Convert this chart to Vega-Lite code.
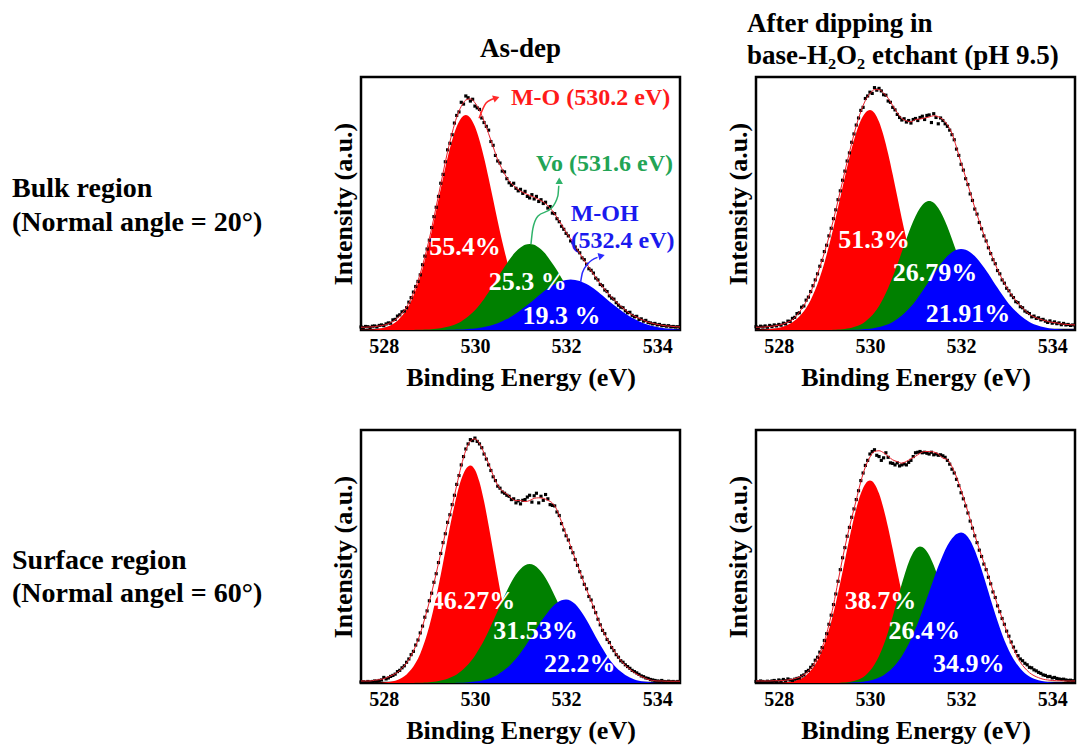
{
"$schema":"https://vega.github.io/schema/vega-lite/v6.json",
"background":"white",
"padding":{"left":12,"top":8,"right":4,"bottom":4},
"config":{"font":"Liberation Serif","view":{"stroke":"black","strokeWidth":2.5},
"axis":{"labelFont":"Liberation Serif","labelFontWeight":"bold","labelFontSize":20,"labelColor":"black","titleFont":"Liberation Serif","titleFontWeight":"bold","titleFontSize":26,"titleColor":"black","grid":false,"ticks":false,"domain":false},
"axisY":{"labels":false,"titlePadding":5},"axisX":{"labelPadding":6,"titlePadding":8},
"title":{"font":"Liberation Serif","fontWeight":"bold","fontSize":27,"color":"black"}},
"datasets":{
"lab":[{"row":"B","t":"Bulk region","lx":0,"ly":0.557},{"row":"B","t":"(Normal angle = 20°)","lx":0,"ly":0.423},{"row":"S","t":"Surface region","lx":0,"ly":0.482},{"row":"S","t":"(Normal angel = 60°)","lx":0,"ly":0.352}],
"pct":[{"p":"TL","x":529.78,"y":0.33,"t":"55.4%"},{"p":"TL","x":531.16,"y":0.19,"t":"25.3 %"},{"p":"TL","x":531.9,"y":0.057,"t":"19.3 %"},
{"p":"TR","x":530.09,"y":0.354,"t":"51.3%"},{"p":"TR","x":531.43,"y":0.224,"t":"26.79%"},{"p":"TR","x":532.15,"y":0.063,"t":"21.91%"},
{"p":"BL","x":529.96,"y":0.325,"t":"46.27%"},{"p":"BL","x":531.33,"y":0.207,"t":"31.53%"},{"p":"BL","x":532.3,"y":0.076,"t":"22.2%"},
{"p":"BR","x":530.23,"y":0.325,"t":"38.7%"},{"p":"BR","x":531.19,"y":0.207,"t":"26.4%"},{"p":"BR","x":532.17,"y":0.076,"t":"34.9%"}],
"antx":[{"x":530.79,"y":0.916,"t":"M-O (530.2 eV)","c":"#ff1a1a"},{"x":531.34,"y":0.657,"t":"Vo (531.6 eV)","c":"#22a455"},{"x":532.1,"y":0.458,"t":"M-OH","c":"#1a1aee"},{"x":532.1,"y":0.35,"t":"(532.4 eV)","c":"#1a1aee"}],
"arr":[{"id":"r","k":1,"x":530.09,"y":0.837,"c":"#ff2a2a"},{"id":"r","k":2,"x":530.24,"y":0.896,"c":"#ff2a2a"},{"id":"r","k":3,"x":530.35,"y":0.91,"c":"#ff2a2a"},{"id":"r","k":4,"x":530.45,"y":0.916,"c":"#ff2a2a"},
{"id":"g","k":1,"x":531.23,"y":0.34,"c":"#2fb36a"},{"id":"g","k":2,"x":531.27,"y":0.4,"c":"#2fb36a"},{"id":"g","k":3,"x":531.38,"y":0.45,"c":"#2fb36a"},{"id":"g","k":4,"x":531.67,"y":0.48,"c":"#2fb36a"},{"id":"g","k":5,"x":531.82,"y":0.53,"c":"#2fb36a"},{"id":"g","k":6,"x":531.84,"y":0.57,"c":"#2fb36a"},
{"id":"b","k":1,"x":532.32,"y":0.19,"c":"#2a2aff"},{"id":"b","k":2,"x":532.36,"y":0.227,"c":"#2a2aff"},{"id":"b","k":3,"x":532.47,"y":0.26,"c":"#2a2aff"},{"id":"b","k":4,"x":532.69,"y":0.287,"c":"#2a2aff"}],
"head":[{"x":530.47,"y":0.917,"s":"triangle-right","a":340,"c":"#ff2a2a"},{"x":531.85,"y":0.59,"s":"triangle-up","a":0,"c":"#2fb36a"},{"x":532.78,"y":0.293,"s":"triangle-right","a":345,"c":"#2a2aff"}],
"comp":[
{"p":"TL","x":527.5,"r":0.001,"g":0,"b":0,"f":0.011},{"p":"TL","x":527.6,"r":0.001,"g":0,"b":0,"f":0.011},{"p":"TL","x":527.7,"r":0.002,"g":0,"b":0,"f":0.012},{"p":"TL","x":527.8,"r":0.003,"g":0,"b":0,"f":0.013},{"p":"TL","x":527.9,"r":0.006,"g":0,"b":0,"f":0.016},
{"p":"TL","x":528.0,"r":0.009,"g":0,"b":0,"f":0.019},{"p":"TL","x":528.1,"r":0.015,"g":0,"b":0,"f":0.025},{"p":"TL","x":528.2,"r":0.024,"g":0,"b":0,"f":0.034},{"p":"TL","x":528.3,"r":0.037,"g":0,"b":0,"f":0.047},{"p":"TL","x":528.4,"r":0.056,"g":0,"b":0,"f":0.066},
{"p":"TL","x":528.5,"r":0.081,"g":0,"b":0,"f":0.091},{"p":"TL","x":528.6,"r":0.115,"g":0,"b":0,"f":0.125},{"p":"TL","x":528.7,"r":0.158,"g":0.001,"b":0,"f":0.169},{"p":"TL","x":528.8,"r":0.212,"g":0.001,"b":0,"f":0.223},{"p":"TL","x":528.9,"r":0.276,"g":0.002,"b":0,"f":0.288},
{"p":"TL","x":529.0,"r":0.349,"g":0.002,"b":0,"f":0.361},{"p":"TL","x":529.1,"r":0.43,"g":0.004,"b":0,"f":0.444},{"p":"TL","x":529.2,"r":0.516,"g":0.006,"b":0,"f":0.532},{"p":"TL","x":529.3,"r":0.601,"g":0.009,"b":0,"f":0.62},{"p":"TL","x":529.4,"r":0.681,"g":0.013,"b":0.001,"f":0.705},
{"p":"TL","x":529.5,"r":0.75,"g":0.018,"b":0.001,"f":0.779},{"p":"TL","x":529.6,"r":0.804,"g":0.025,"b":0.002,"f":0.841},{"p":"TL","x":529.7,"r":0.838,"g":0.034,"b":0.002,"f":0.884},{"p":"TL","x":529.8,"r":0.85,"g":0.046,"b":0.003,"f":0.909},{"p":"TL","x":529.9,"r":0.838,"g":0.061,"b":0.005,"f":0.914},
{"p":"TL","x":530.0,"r":0.804,"g":0.078,"b":0.006,"f":0.898},{"p":"TL","x":530.1,"r":0.75,"g":0.099,"b":0.009,"f":0.868},{"p":"TL","x":530.2,"r":0.681,"g":0.123,"b":0.012,"f":0.826},{"p":"TL","x":530.3,"r":0.601,"g":0.149,"b":0.016,"f":0.776},{"p":"TL","x":530.4,"r":0.516,"g":0.177,"b":0.021,"f":0.724},
{"p":"TL","x":530.5,"r":0.43,"g":0.206,"b":0.027,"f":0.673},{"p":"TL","x":530.6,"r":0.349,"g":0.236,"b":0.035,"f":0.635},{"p":"TL","x":530.7,"r":0.276,"g":0.263,"b":0.043,"f":0.602},{"p":"TL","x":530.8,"r":0.212,"g":0.289,"b":0.053,"f":0.579},{"p":"TL","x":530.9,"r":0.158,"g":0.31,"b":0.065,"f":0.563},
{"p":"TL","x":531.0,"r":0.115,"g":0.326,"b":0.078,"f":0.549},{"p":"TL","x":531.1,"r":0.081,"g":0.337,"b":0.092,"f":0.54},{"p":"TL","x":531.2,"r":0.056,"g":0.34,"b":0.106,"f":0.532},{"p":"TL","x":531.3,"r":0.037,"g":0.337,"b":0.121,"f":0.525},{"p":"TL","x":531.4,"r":0.024,"g":0.326,"b":0.136,"f":0.516},
{"p":"TL","x":531.5,"r":0.015,"g":0.31,"b":0.151,"f":0.506},{"p":"TL","x":531.6,"r":0.009,"g":0.289,"b":0.165,"f":0.491},{"p":"TL","x":531.7,"r":0.006,"g":0.263,"b":0.177,"f":0.471},{"p":"TL","x":531.8,"r":0.003,"g":0.236,"b":0.186,"f":0.445},{"p":"TL","x":531.9,"r":0.002,"g":0.206,"b":0.194,"f":0.417},
{"p":"TL","x":532.0,"r":0.001,"g":0.177,"b":0.198,"f":0.386},{"p":"TL","x":532.1,"r":0.001,"g":0.149,"b":0.2,"f":0.36},{"p":"TL","x":532.2,"r":0,"g":0.123,"b":0.198,"f":0.331},{"p":"TL","x":532.3,"r":0,"g":0.099,"b":0.194,"f":0.303},{"p":"TL","x":532.4,"r":0,"g":0.078,"b":0.186,"f":0.274},
{"p":"TL","x":532.5,"r":0,"g":0.061,"b":0.177,"f":0.248},{"p":"TL","x":532.6,"r":0,"g":0.046,"b":0.165,"f":0.221},{"p":"TL","x":532.7,"r":0,"g":0.034,"b":0.151,"f":0.195},{"p":"TL","x":532.8,"r":0,"g":0.025,"b":0.136,"f":0.171},{"p":"TL","x":532.9,"r":0,"g":0.018,"b":0.121,"f":0.149},
{"p":"TL","x":533.0,"r":0,"g":0.013,"b":0.106,"f":0.129},{"p":"TL","x":533.1,"r":0,"g":0.009,"b":0.092,"f":0.111},{"p":"TL","x":533.2,"r":0,"g":0.006,"b":0.078,"f":0.094},{"p":"TL","x":533.3,"r":0,"g":0.004,"b":0.065,"f":0.079},{"p":"TL","x":533.4,"r":0,"g":0.002,"b":0.053,"f":0.065},
{"p":"TL","x":533.5,"r":0,"g":0.002,"b":0.043,"f":0.055},{"p":"TL","x":533.6,"r":0,"g":0.001,"b":0.035,"f":0.046},{"p":"TL","x":533.7,"r":0,"g":0.001,"b":0.027,"f":0.038},{"p":"TL","x":533.8,"r":0,"g":0,"b":0.021,"f":0.031},{"p":"TL","x":533.9,"r":0,"g":0,"b":0.016,"f":0.026},
{"p":"TL","x":534.0,"r":0,"g":0,"b":0.012,"f":0.022},{"p":"TL","x":534.1,"r":0,"g":0,"b":0.009,"f":0.019},{"p":"TL","x":534.2,"r":0,"g":0,"b":0.006,"f":0.016},{"p":"TL","x":534.3,"r":0,"g":0,"b":0.005,"f":0.015},{"p":"TL","x":534.4,"r":0,"g":0,"b":0.003,"f":0.013},{"p":"TL","x":534.5,"r":0,"g":0,"b":0.002,"f":0.012},
{"p":"TR","x":527.5,"r":0.001,"g":0,"b":0,"f":0.011},{"p":"TR","x":527.6,"r":0.001,"g":0,"b":0,"f":0.011},{"p":"TR","x":527.7,"r":0.002,"g":0,"b":0,"f":0.012},{"p":"TR","x":527.8,"r":0.004,"g":0,"b":0,"f":0.014},{"p":"TR","x":527.9,"r":0.006,"g":0,"b":0,"f":0.016},
{"p":"TR","x":528.0,"r":0.009,"g":0,"b":0,"f":0.019},{"p":"TR","x":528.1,"r":0.014,"g":0,"b":0,"f":0.024},{"p":"TR","x":528.2,"r":0.021,"g":0,"b":0,"f":0.031},{"p":"TR","x":528.3,"r":0.031,"g":0,"b":0,"f":0.041},{"p":"TR","x":528.4,"r":0.044,"g":0,"b":0,"f":0.059},
{"p":"TR","x":528.5,"r":0.063,"g":0,"b":0,"f":0.083},{"p":"TR","x":528.6,"r":0.087,"g":0,"b":0,"f":0.112},{"p":"TR","x":528.7,"r":0.119,"g":0,"b":0,"f":0.149},{"p":"TR","x":528.8,"r":0.159,"g":0,"b":0,"f":0.194},{"p":"TR","x":528.9,"r":0.208,"g":0,"b":0,"f":0.248},
{"p":"TR","x":529.0,"r":0.265,"g":0,"b":0,"f":0.305},{"p":"TR","x":529.1,"r":0.332,"g":0,"b":0,"f":0.367},{"p":"TR","x":529.2,"r":0.405,"g":0.001,"b":0,"f":0.436},{"p":"TR","x":529.3,"r":0.484,"g":0.002,"b":0,"f":0.511},{"p":"TR","x":529.4,"r":0.565,"g":0.003,"b":0,"f":0.588},
{"p":"TR","x":529.5,"r":0.644,"g":0.006,"b":0,"f":0.665},{"p":"TR","x":529.6,"r":0.718,"g":0.009,"b":0.001,"f":0.738},{"p":"TR","x":529.7,"r":0.781,"g":0.015,"b":0.001,"f":0.807},{"p":"TR","x":529.8,"r":0.829,"g":0.022,"b":0.002,"f":0.863},{"p":"TR","x":529.9,"r":0.859,"g":0.034,"b":0.004,"f":0.907},
{"p":"TR","x":530.0,"r":0.87,"g":0.049,"b":0.005,"f":0.934},{"p":"TR","x":530.1,"r":0.858,"g":0.069,"b":0.008,"f":0.95},{"p":"TR","x":530.2,"r":0.823,"g":0.095,"b":0.012,"f":0.95},{"p":"TR","x":530.3,"r":0.768,"g":0.127,"b":0.017,"f":0.937},{"p":"TR","x":530.4,"r":0.697,"g":0.166,"b":0.023,"f":0.916},
{"p":"TR","x":530.5,"r":0.615,"g":0.21,"b":0.032,"f":0.887},{"p":"TR","x":530.6,"r":0.528,"g":0.258,"b":0.043,"f":0.859},{"p":"TR","x":530.7,"r":0.44,"g":0.309,"b":0.057,"f":0.836},{"p":"TR","x":530.8,"r":0.358,"g":0.36,"b":0.074,"f":0.827},{"p":"TR","x":530.9,"r":0.282,"g":0.408,"b":0.093,"f":0.823},
{"p":"TR","x":531.0,"r":0.217,"g":0.45,"b":0.115,"f":0.832},{"p":"TR","x":531.1,"r":0.162,"g":0.482,"b":0.14,"f":0.834},{"p":"TR","x":531.2,"r":0.118,"g":0.503,"b":0.167,"f":0.838},{"p":"TR","x":531.3,"r":0.083,"g":0.51,"b":0.194,"f":0.842},{"p":"TR","x":531.4,"r":0.057,"g":0.503,"b":0.222,"f":0.847},
{"p":"TR","x":531.5,"r":0.038,"g":0.482,"b":0.248,"f":0.843},{"p":"TR","x":531.6,"r":0.025,"g":0.45,"b":0.272,"f":0.832},{"p":"TR","x":531.7,"r":0.016,"g":0.408,"b":0.292,"f":0.811},{"p":"TR","x":531.8,"r":0.01,"g":0.36,"b":0.307,"f":0.777},{"p":"TR","x":531.9,"r":0.006,"g":0.309,"b":0.317,"f":0.722},
{"p":"TR","x":532.0,"r":0.003,"g":0.258,"b":0.32,"f":0.661},{"p":"TR","x":532.1,"r":0.002,"g":0.21,"b":0.317,"f":0.604},{"p":"TR","x":532.2,"r":0.001,"g":0.166,"b":0.307,"f":0.544},{"p":"TR","x":532.3,"r":0,"g":0.127,"b":0.292,"f":0.484},{"p":"TR","x":532.4,"r":0,"g":0.095,"b":0.272,"f":0.429},
{"p":"TR","x":532.5,"r":0,"g":0.069,"b":0.248,"f":0.377},{"p":"TR","x":532.6,"r":0,"g":0.049,"b":0.222,"f":0.328},{"p":"TR","x":532.7,"r":0,"g":0.034,"b":0.194,"f":0.282},{"p":"TR","x":532.8,"r":0,"g":0.022,"b":0.167,"f":0.239},{"p":"TR","x":532.9,"r":0,"g":0.015,"b":0.14,"f":0.202},
{"p":"TR","x":533.0,"r":0,"g":0.009,"b":0.115,"f":0.169},{"p":"TR","x":533.1,"r":0,"g":0.006,"b":0.093,"f":0.141},{"p":"TR","x":533.2,"r":0,"g":0.003,"b":0.074,"f":0.117},{"p":"TR","x":533.3,"r":0,"g":0.002,"b":0.057,"f":0.096},{"p":"TR","x":533.4,"r":0,"g":0.001,"b":0.043,"f":0.078},
{"p":"TR","x":533.5,"r":0,"g":0,"b":0.032,"f":0.062},{"p":"TR","x":533.6,"r":0,"g":0,"b":0.023,"f":0.052},{"p":"TR","x":533.7,"r":0,"g":0,"b":0.017,"f":0.045},{"p":"TR","x":533.8,"r":0,"g":0,"b":0.012,"f":0.039},{"p":"TR","x":533.9,"r":0,"g":0,"b":0.008,"f":0.034},
{"p":"TR","x":534.0,"r":0,"g":0,"b":0.005,"f":0.03},{"p":"TR","x":534.1,"r":0,"g":0,"b":0.004,"f":0.028},{"p":"TR","x":534.2,"r":0,"g":0,"b":0.002,"f":0.024},{"p":"TR","x":534.3,"r":0,"g":0,"b":0.001,"f":0.022},{"p":"TR","x":534.4,"r":0,"g":0,"b":0.001,"f":0.021},{"p":"TR","x":534.5,"r":0,"g":0,"b":0,"f":0.02},
{"p":"BL","x":527.5,"r":0,"g":0,"b":0,"f":0.008},{"p":"BL","x":527.6,"r":0,"g":0,"b":0,"f":0.008},{"p":"BL","x":527.7,"r":0,"g":0,"b":0,"f":0.008},{"p":"BL","x":527.8,"r":0.001,"g":0,"b":0,"f":0.011},{"p":"BL","x":527.9,"r":0.001,"g":0,"b":0,"f":0.013},
{"p":"BL","x":528.0,"r":0.002,"g":0,"b":0,"f":0.017},{"p":"BL","x":528.1,"r":0.004,"g":0,"b":0,"f":0.024},{"p":"BL","x":528.2,"r":0.007,"g":0,"b":0,"f":0.032},{"p":"BL","x":528.3,"r":0.012,"g":0,"b":0,"f":0.042},{"p":"BL","x":528.4,"r":0.021,"g":0,"b":0,"f":0.058},
{"p":"BL","x":528.5,"r":0.034,"g":0,"b":0,"f":0.079},{"p":"BL","x":528.6,"r":0.053,"g":0,"b":0,"f":0.108},{"p":"BL","x":528.7,"r":0.08,"g":0.001,"b":0,"f":0.146},{"p":"BL","x":528.8,"r":0.116,"g":0.001,"b":0,"f":0.195},{"p":"BL","x":528.9,"r":0.165,"g":0.002,"b":0,"f":0.255},
{"p":"BL","x":529.0,"r":0.225,"g":0.003,"b":0,"f":0.321},{"p":"BL","x":529.1,"r":0.299,"g":0.005,"b":0,"f":0.394},{"p":"BL","x":529.2,"r":0.383,"g":0.008,"b":0,"f":0.473},{"p":"BL","x":529.3,"r":0.474,"g":0.012,"b":0,"f":0.55},{"p":"BL","x":529.4,"r":0.569,"g":0.017,"b":0,"f":0.63},
{"p":"BL","x":529.5,"r":0.66,"g":0.025,"b":0,"f":0.7},{"p":"BL","x":529.6,"r":0.741,"g":0.034,"b":0.001,"f":0.781},{"p":"BL","x":529.7,"r":0.805,"g":0.047,"b":0.001,"f":0.858},{"p":"BL","x":529.8,"r":0.846,"g":0.064,"b":0.002,"f":0.92},{"p":"BL","x":529.9,"r":0.86,"g":0.084,"b":0.004,"f":0.956},
{"p":"BL","x":530.0,"r":0.843,"g":0.108,"b":0.006,"f":0.965},{"p":"BL","x":530.1,"r":0.794,"g":0.137,"b":0.008,"f":0.947},{"p":"BL","x":530.2,"r":0.718,"g":0.169,"b":0.012,"f":0.909},{"p":"BL","x":530.3,"r":0.624,"g":0.206,"b":0.017,"f":0.867},{"p":"BL","x":530.4,"r":0.522,"g":0.245,"b":0.024,"f":0.821},
{"p":"BL","x":530.5,"r":0.419,"g":0.285,"b":0.033,"f":0.782},{"p":"BL","x":530.6,"r":0.323,"g":0.326,"b":0.045,"f":0.759},{"p":"BL","x":530.7,"r":0.239,"g":0.364,"b":0.059,"f":0.747},{"p":"BL","x":530.8,"r":0.17,"g":0.399,"b":0.076,"f":0.73},{"p":"BL","x":530.9,"r":0.116,"g":0.429,"b":0.096,"f":0.721},
{"p":"BL","x":531.0,"r":0.076,"g":0.451,"b":0.119,"f":0.721},{"p":"BL","x":531.1,"r":0.048,"g":0.465,"b":0.144,"f":0.717},{"p":"BL","x":531.2,"r":0.029,"g":0.47,"b":0.172,"f":0.721},{"p":"BL","x":531.3,"r":0.017,"g":0.465,"b":0.2,"f":0.73},{"p":"BL","x":531.4,"r":0.01,"g":0.451,"b":0.229,"f":0.732},
{"p":"BL","x":531.5,"r":0.005,"g":0.429,"b":0.256,"f":0.73},{"p":"BL","x":531.6,"r":0.003,"g":0.399,"b":0.28,"f":0.722},{"p":"BL","x":531.7,"r":0.001,"g":0.364,"b":0.301,"f":0.711},{"p":"BL","x":531.8,"r":0.001,"g":0.326,"b":0.317,"f":0.684},{"p":"BL","x":531.9,"r":0,"g":0.285,"b":0.327,"f":0.637},
{"p":"BL","x":532.0,"r":0,"g":0.245,"b":0.33,"f":0.587},{"p":"BL","x":532.1,"r":0,"g":0.206,"b":0.325,"f":0.541},{"p":"BL","x":532.2,"r":0,"g":0.169,"b":0.312,"f":0.491},{"p":"BL","x":532.3,"r":0,"g":0.137,"b":0.291,"f":0.443},{"p":"BL","x":532.4,"r":0,"g":0.108,"b":0.264,"f":0.392},
{"p":"BL","x":532.5,"r":0,"g":0.084,"b":0.233,"f":0.347},{"p":"BL","x":532.6,"r":0,"g":0.064,"b":0.2,"f":0.302},{"p":"BL","x":532.7,"r":0,"g":0.047,"b":0.167,"f":0.254},{"p":"BL","x":532.8,"r":0,"g":0.034,"b":0.136,"f":0.21},{"p":"BL","x":532.9,"r":0,"g":0.025,"b":0.107,"f":0.175},
{"p":"BL","x":533.0,"r":0,"g":0.017,"b":0.082,"f":0.144},{"p":"BL","x":533.1,"r":0,"g":0.012,"b":0.061,"f":0.115},{"p":"BL","x":533.2,"r":0,"g":0.008,"b":0.045,"f":0.09},{"p":"BL","x":533.3,"r":0,"g":0.005,"b":0.032,"f":0.07},{"p":"BL","x":533.4,"r":0,"g":0.003,"b":0.022,"f":0.055},
{"p":"BL","x":533.5,"r":0,"g":0.002,"b":0.014,"f":0.041},{"p":"BL","x":533.6,"r":0,"g":0.001,"b":0.009,"f":0.03},{"p":"BL","x":533.7,"r":0,"g":0.001,"b":0.006,"f":0.022},{"p":"BL","x":533.8,"r":0,"g":0,"b":0.004,"f":0.014},{"p":"BL","x":533.9,"r":0,"g":0,"b":0.002,"f":0.01},
{"p":"BL","x":534.0,"r":0,"g":0,"b":0.001,"f":0.008},{"p":"BL","x":534.1,"r":0,"g":0,"b":0.001,"f":0.008},{"p":"BL","x":534.2,"r":0,"g":0,"b":0,"f":0.007},{"p":"BL","x":534.3,"r":0,"g":0,"b":0,"f":0.007},{"p":"BL","x":534.4,"r":0,"g":0,"b":0,"f":0.007},{"p":"BL","x":534.5,"r":0,"g":0,"b":0,"f":0.007},
{"p":"BR","x":527.5,"r":0,"g":0,"b":0,"f":0.008},{"p":"BR","x":527.6,"r":0,"g":0,"b":0,"f":0.008},{"p":"BR","x":527.7,"r":0,"g":0,"b":0,"f":0.008},{"p":"BR","x":527.8,"r":0,"g":0,"b":0,"f":0.008},{"p":"BR","x":527.9,"r":0.001,"g":0,"b":0,"f":0.009},
{"p":"BR","x":528.0,"r":0.001,"g":0,"b":0,"f":0.009},{"p":"BR","x":528.1,"r":0.002,"g":0,"b":0,"f":0.01},{"p":"BR","x":528.2,"r":0.004,"g":0,"b":0,"f":0.012},{"p":"BR","x":528.3,"r":0.007,"g":0,"b":0,"f":0.015},{"p":"BR","x":528.4,"r":0.012,"g":0,"b":0,"f":0.02},
{"p":"BR","x":528.5,"r":0.019,"g":0,"b":0,"f":0.027},{"p":"BR","x":528.6,"r":0.031,"g":0,"b":0,"f":0.039},{"p":"BR","x":528.7,"r":0.049,"g":0,"b":0,"f":0.057},{"p":"BR","x":528.8,"r":0.074,"g":0,"b":0,"f":0.084},{"p":"BR","x":528.9,"r":0.108,"g":0,"b":0,"f":0.118},
{"p":"BR","x":529.0,"r":0.153,"g":0,"b":0,"f":0.165},{"p":"BR","x":529.1,"r":0.21,"g":0,"b":0,"f":0.23},{"p":"BR","x":529.2,"r":0.278,"g":0,"b":0,"f":0.308},{"p":"BR","x":529.3,"r":0.356,"g":0,"b":0,"f":0.401},{"p":"BR","x":529.4,"r":0.441,"g":0.002,"b":0,"f":0.493},
{"p":"BR","x":529.5,"r":0.529,"g":0.003,"b":0,"f":0.577},{"p":"BR","x":529.6,"r":0.614,"g":0.006,"b":0.002,"f":0.652},{"p":"BR","x":529.7,"r":0.689,"g":0.011,"b":0.003,"f":0.723},{"p":"BR","x":529.8,"r":0.749,"g":0.018,"b":0.004,"f":0.796},{"p":"BR","x":529.9,"r":0.787,"g":0.03,"b":0.007,"f":0.854},
{"p":"BR","x":530.0,"r":0.8,"g":0.048,"b":0.01,"f":0.893},{"p":"BR","x":530.1,"r":0.787,"g":0.073,"b":0.015,"f":0.915},{"p":"BR","x":530.2,"r":0.749,"g":0.107,"b":0.022,"f":0.918},{"p":"BR","x":530.3,"r":0.689,"g":0.15,"b":0.031,"f":0.91},{"p":"BR","x":530.4,"r":0.614,"g":0.203,"b":0.044,"f":0.896},
{"p":"BR","x":530.5,"r":0.529,"g":0.263,"b":0.06,"f":0.882},{"p":"BR","x":530.6,"r":0.441,"g":0.328,"b":0.081,"f":0.875},{"p":"BR","x":530.7,"r":0.356,"g":0.392,"b":0.106,"f":0.869},{"p":"BR","x":530.8,"r":0.278,"g":0.451,"b":0.137,"f":0.876},{"p":"BR","x":530.9,"r":0.21,"g":0.498,"b":0.173,"f":0.886},
{"p":"BR","x":531.0,"r":0.153,"g":0.529,"b":0.214,"f":0.896},{"p":"BR","x":531.1,"r":0.108,"g":0.54,"b":0.26,"f":0.908},{"p":"BR","x":531.2,"r":0.074,"g":0.531,"b":0.31,"f":0.915},{"p":"BR","x":531.3,"r":0.049,"g":0.505,"b":0.361,"f":0.915},{"p":"BR","x":531.4,"r":0.031,"g":0.465,"b":0.412,"f":0.913},
{"p":"BR","x":531.5,"r":0.019,"g":0.415,"b":0.461,"f":0.905},{"p":"BR","x":531.6,"r":0.012,"g":0.357,"b":0.505,"f":0.889},{"p":"BR","x":531.7,"r":0.007,"g":0.298,"b":0.543,"f":0.883},{"p":"BR","x":531.8,"r":0.004,"g":0.24,"b":0.571,"f":0.855},{"p":"BR","x":531.9,"r":0.002,"g":0.187,"b":0.589,"f":0.814},
{"p":"BR","x":532.0,"r":0.001,"g":0.142,"b":0.595,"f":0.762},{"p":"BR","x":532.1,"r":0.001,"g":0.103,"b":0.587,"f":0.706},{"p":"BR","x":532.2,"r":0,"g":0.073,"b":0.563,"f":0.646},{"p":"BR","x":532.3,"r":0,"g":0.05,"b":0.525,"f":0.585},{"p":"BR","x":532.4,"r":0,"g":0.033,"b":0.476,"f":0.529},
{"p":"BR","x":532.5,"r":0,"g":0.021,"b":0.42,"f":0.476},{"p":"BR","x":532.6,"r":0,"g":0.013,"b":0.361,"f":0.424},{"p":"BR","x":532.7,"r":0,"g":0.008,"b":0.301,"f":0.364},{"p":"BR","x":532.8,"r":0,"g":0.005,"b":0.245,"f":0.308},{"p":"BR","x":532.9,"r":0,"g":0.003,"b":0.193,"f":0.256},
{"p":"BR","x":533.0,"r":0,"g":0.001,"b":0.148,"f":0.204},{"p":"BR","x":533.1,"r":0,"g":0.001,"b":0.111,"f":0.158},{"p":"BR","x":533.2,"r":0,"g":0,"b":0.081,"f":0.116},{"p":"BR","x":533.3,"r":0,"g":0,"b":0.057,"f":0.082},{"p":"BR","x":533.4,"r":0,"g":0,"b":0.039,"f":0.059},
{"p":"BR","x":533.5,"r":0,"g":0,"b":0.026,"f":0.041},{"p":"BR","x":533.6,"r":0,"g":0,"b":0.017,"f":0.029},{"p":"BR","x":533.7,"r":0,"g":0,"b":0.011,"f":0.021},{"p":"BR","x":533.8,"r":0,"g":0,"b":0.007,"f":0.015},{"p":"BR","x":533.9,"r":0,"g":0,"b":0.004,"f":0.012},
{"p":"BR","x":534.0,"r":0,"g":0,"b":0.002,"f":0.01},{"p":"BR","x":534.1,"r":0,"g":0,"b":0.001,"f":0.009},{"p":"BR","x":534.2,"r":0,"g":0,"b":0.001,"f":0.009},{"p":"BR","x":534.3,"r":0,"g":0,"b":0,"f":0.008},{"p":"BR","x":534.4,"r":0,"g":0,"b":0,"f":0.008},{"p":"BR","x":534.5,"r":0,"g":0,"b":0,"f":0.008}
],
"obs":[
{"p":"TL","x":527.5,"o":0.012},{"p":"TL","x":527.55,"o":0.01},{"p":"TL","x":527.6,"o":0.014},{"p":"TL","x":527.65,"o":0.013},{"p":"TL","x":527.7,"o":0.01},{"p":"TL","x":527.75,"o":0.015},{"p":"TL","x":527.8,"o":0.016},{"p":"TL","x":527.85,"o":0.012},{"p":"TL","x":527.9,"o":0.018},{"p":"TL","x":527.95,"o":0.02},
{"p":"TL","x":528.0,"o":0.017},{"p":"TL","x":528.05,"o":0.024},{"p":"TL","x":528.1,"o":0.028},{"p":"TL","x":528.15,"o":0.027},{"p":"TL","x":528.2,"o":0.04},{"p":"TL","x":528.25,"o":0.042},{"p":"TL","x":528.3,"o":0.055},{"p":"TL","x":528.35,"o":0.06},{"p":"TL","x":528.4,"o":0.072},{"p":"TL","x":528.45,"o":0.075},
{"p":"TL","x":528.5,"o":0.088},{"p":"TL","x":528.55,"o":0.11},{"p":"TL","x":528.6,"o":0.128},{"p":"TL","x":528.65,"o":0.15},{"p":"TL","x":528.7,"o":0.172},{"p":"TL","x":528.75,"o":0.192},{"p":"TL","x":528.8,"o":0.218},{"p":"TL","x":528.85,"o":0.258},{"p":"TL","x":528.9,"o":0.292},{"p":"TL","x":528.95,"o":0.32},
{"p":"TL","x":529.0,"o":0.355},{"p":"TL","x":529.05,"o":0.405},{"p":"TL","x":529.1,"o":0.448},{"p":"TL","x":529.15,"o":0.485},{"p":"TL","x":529.2,"o":0.528},{"p":"TL","x":529.25,"o":0.58},{"p":"TL","x":529.3,"o":0.615},{"p":"TL","x":529.35,"o":0.665},{"p":"TL","x":529.4,"o":0.712},{"p":"TL","x":529.45,"o":0.738},
{"p":"TL","x":529.5,"o":0.772},{"p":"TL","x":529.55,"o":0.818},{"p":"TL","x":529.6,"o":0.848},{"p":"TL","x":529.65,"o":0.862},{"p":"TL","x":529.7,"o":0.9},{"p":"TL","x":529.75,"o":0.893},{"p":"TL","x":529.8,"o":0.925},{"p":"TL","x":529.85,"o":0.918},{"p":"TL","x":529.9,"o":0.905},{"p":"TL","x":529.95,"o":0.912},
{"p":"TL","x":530.0,"o":0.885},{"p":"TL","x":530.05,"o":0.878},{"p":"TL","x":530.1,"o":0.872},{"p":"TL","x":530.15,"o":0.838},{"p":"TL","x":530.2,"o":0.82},{"p":"TL","x":530.25,"o":0.805},{"p":"TL","x":530.3,"o":0.79},{"p":"TL","x":530.35,"o":0.745},{"p":"TL","x":530.4,"o":0.73},{"p":"TL","x":530.45,"o":0.69},
{"p":"TL","x":530.5,"o":0.668},{"p":"TL","x":530.55,"o":0.66},{"p":"TL","x":530.6,"o":0.628},{"p":"TL","x":530.65,"o":0.625},{"p":"TL","x":530.7,"o":0.598},{"p":"TL","x":530.75,"o":0.582},{"p":"TL","x":530.8,"o":0.572},{"p":"TL","x":530.85,"o":0.58},{"p":"TL","x":530.9,"o":0.56},{"p":"TL","x":530.95,"o":0.55},
{"p":"TL","x":531.0,"o":0.556},{"p":"TL","x":531.05,"o":0.54},{"p":"TL","x":531.1,"o":0.548},{"p":"TL","x":531.15,"o":0.528},{"p":"TL","x":531.2,"o":0.522},{"p":"TL","x":531.25,"o":0.535},{"p":"TL","x":531.3,"o":0.518},{"p":"TL","x":531.35,"o":0.528},{"p":"TL","x":531.4,"o":0.508},{"p":"TL","x":531.45,"o":0.515},
{"p":"TL","x":531.5,"o":0.5},{"p":"TL","x":531.55,"o":0.505},{"p":"TL","x":531.6,"o":0.482},{"p":"TL","x":531.65,"o":0.488},{"p":"TL","x":531.7,"o":0.462},{"p":"TL","x":531.75,"o":0.46},{"p":"TL","x":531.8,"o":0.44},{"p":"TL","x":531.85,"o":0.428},{"p":"TL","x":531.9,"o":0.41},{"p":"TL","x":531.95,"o":0.398},
{"p":"TL","x":532.0,"o":0.382},{"p":"TL","x":532.05,"o":0.372},{"p":"TL","x":532.1,"o":0.352},{"p":"TL","x":532.15,"o":0.345},{"p":"TL","x":532.2,"o":0.328},{"p":"TL","x":532.25,"o":0.315},{"p":"TL","x":532.3,"o":0.305},{"p":"TL","x":532.35,"o":0.285},{"p":"TL","x":532.4,"o":0.278},{"p":"TL","x":532.45,"o":0.26},
{"p":"TL","x":532.5,"o":0.242},{"p":"TL","x":532.55,"o":0.236},{"p":"TL","x":532.6,"o":0.225},{"p":"TL","x":532.65,"o":0.205},{"p":"TL","x":532.7,"o":0.198},{"p":"TL","x":532.75,"o":0.18},{"p":"TL","x":532.8,"o":0.175},{"p":"TL","x":532.85,"o":0.158},{"p":"TL","x":532.9,"o":0.152},{"p":"TL","x":532.95,"o":0.135},
{"p":"TL","x":533.0,"o":0.126},{"p":"TL","x":533.05,"o":0.122},{"p":"TL","x":533.1,"o":0.108},{"p":"TL","x":533.15,"o":0.098},{"p":"TL","x":533.2,"o":0.09},{"p":"TL","x":533.25,"o":0.088},{"p":"TL","x":533.3,"o":0.076},{"p":"TL","x":533.35,"o":0.068},{"p":"TL","x":533.4,"o":0.07},{"p":"TL","x":533.45,"o":0.058},
{"p":"TL","x":533.5,"o":0.052},{"p":"TL","x":533.55,"o":0.054},{"p":"TL","x":533.6,"o":0.042},{"p":"TL","x":533.65,"o":0.044},{"p":"TL","x":533.7,"o":0.035},{"p":"TL","x":533.75,"o":0.038},{"p":"TL","x":533.8,"o":0.03},{"p":"TL","x":533.85,"o":0.028},{"p":"TL","x":533.9,"o":0.024},{"p":"TL","x":533.95,"o":0.026},
{"p":"TL","x":534.0,"o":0.02},{"p":"TL","x":534.05,"o":0.022},{"p":"TL","x":534.1,"o":0.017},{"p":"TL","x":534.15,"o":0.018},{"p":"TL","x":534.2,"o":0.015},{"p":"TL","x":534.25,"o":0.017},{"p":"TL","x":534.3,"o":0.013},{"p":"TL","x":534.35,"o":0.014},{"p":"TL","x":534.4,"o":0.012},{"p":"TL","x":534.45,"o":0.013},
{"p":"TR","x":527.5,"o":0.013},{"p":"TR","x":527.55,"o":0.01},{"p":"TR","x":527.6,"o":0.015},{"p":"TR","x":527.65,"o":0.012},{"p":"TR","x":527.7,"o":0.016},{"p":"TR","x":527.75,"o":0.011},{"p":"TR","x":527.8,"o":0.018},{"p":"TR","x":527.85,"o":0.014},{"p":"TR","x":527.9,"o":0.02},{"p":"TR","x":527.95,"o":0.016},
{"p":"TR","x":528.0,"o":0.022},{"p":"TR","x":528.05,"o":0.019},{"p":"TR","x":528.1,"o":0.027},{"p":"TR","x":528.15,"o":0.024},{"p":"TR","x":528.2,"o":0.035},{"p":"TR","x":528.25,"o":0.034},{"p":"TR","x":528.3,"o":0.046},{"p":"TR","x":528.35,"o":0.05},{"p":"TR","x":528.4,"o":0.065},{"p":"TR","x":528.45,"o":0.068},
{"p":"TR","x":528.5,"o":0.09},{"p":"TR","x":528.55,"o":0.095},{"p":"TR","x":528.6,"o":0.118},{"p":"TR","x":528.65,"o":0.13},{"p":"TR","x":528.7,"o":0.152},{"p":"TR","x":528.75,"o":0.175},{"p":"TR","x":528.8,"o":0.198},{"p":"TR","x":528.85,"o":0.222},{"p":"TR","x":528.9,"o":0.252},{"p":"TR","x":528.95,"o":0.275},
{"p":"TR","x":529.0,"o":0.31},{"p":"TR","x":529.05,"o":0.335},{"p":"TR","x":529.1,"o":0.372},{"p":"TR","x":529.15,"o":0.402},{"p":"TR","x":529.2,"o":0.44},{"p":"TR","x":529.25,"o":0.475},{"p":"TR","x":529.3,"o":0.515},{"p":"TR","x":529.35,"o":0.55},{"p":"TR","x":529.4,"o":0.592},{"p":"TR","x":529.45,"o":0.628},
{"p":"TR","x":529.5,"o":0.668},{"p":"TR","x":529.55,"o":0.7},{"p":"TR","x":529.6,"o":0.742},{"p":"TR","x":529.65,"o":0.775},{"p":"TR","x":529.7,"o":0.81},{"p":"TR","x":529.75,"o":0.838},{"p":"TR","x":529.8,"o":0.868},{"p":"TR","x":529.85,"o":0.88},{"p":"TR","x":529.9,"o":0.915},{"p":"TR","x":529.95,"o":0.925},
{"p":"TR","x":530.0,"o":0.94},{"p":"TR","x":530.05,"o":0.935},{"p":"TR","x":530.1,"o":0.958},{"p":"TR","x":530.15,"o":0.948},{"p":"TR","x":530.2,"o":0.955},{"p":"TR","x":530.25,"o":0.945},{"p":"TR","x":530.3,"o":0.93},{"p":"TR","x":530.35,"o":0.928},{"p":"TR","x":530.4,"o":0.905},{"p":"TR","x":530.45,"o":0.9},
{"p":"TR","x":530.5,"o":0.88},{"p":"TR","x":530.55,"o":0.87},{"p":"TR","x":530.6,"o":0.852},{"p":"TR","x":530.65,"o":0.84},{"p":"TR","x":530.7,"o":0.83},{"p":"TR","x":530.75,"o":0.835},{"p":"TR","x":530.8,"o":0.822},{"p":"TR","x":530.85,"o":0.828},{"p":"TR","x":530.9,"o":0.818},{"p":"TR","x":530.95,"o":0.832},
{"p":"TR","x":531.0,"o":0.836},{"p":"TR","x":531.05,"o":0.828},{"p":"TR","x":531.1,"o":0.84},{"p":"TR","x":531.15,"o":0.845},{"p":"TR","x":531.2,"o":0.832},{"p":"TR","x":531.25,"o":0.848},{"p":"TR","x":531.3,"o":0.85},{"p":"TR","x":531.35,"o":0.82},{"p":"TR","x":531.4,"o":0.855},{"p":"TR","x":531.45,"o":0.84},
{"p":"TR","x":531.5,"o":0.815},{"p":"TR","x":531.55,"o":0.838},{"p":"TR","x":531.6,"o":0.828},{"p":"TR","x":531.65,"o":0.815},{"p":"TR","x":531.7,"o":0.805},{"p":"TR","x":531.75,"o":0.79},{"p":"TR","x":531.8,"o":0.772},{"p":"TR","x":531.85,"o":0.752},{"p":"TR","x":531.9,"o":0.715},{"p":"TR","x":531.95,"o":0.69},
{"p":"TR","x":532.0,"o":0.655},{"p":"TR","x":532.05,"o":0.632},{"p":"TR","x":532.1,"o":0.598},{"p":"TR","x":532.15,"o":0.575},{"p":"TR","x":532.2,"o":0.538},{"p":"TR","x":532.25,"o":0.512},{"p":"TR","x":532.3,"o":0.478},{"p":"TR","x":532.35,"o":0.458},{"p":"TR","x":532.4,"o":0.425},{"p":"TR","x":532.45,"o":0.4},
{"p":"TR","x":532.5,"o":0.372},{"p":"TR","x":532.55,"o":0.352},{"p":"TR","x":532.6,"o":0.325},{"p":"TR","x":532.65,"o":0.302},{"p":"TR","x":532.7,"o":0.278},{"p":"TR","x":532.75,"o":0.262},{"p":"TR","x":532.8,"o":0.235},{"p":"TR","x":532.85,"o":0.222},{"p":"TR","x":532.9,"o":0.198},{"p":"TR","x":532.95,"o":0.185},
{"p":"TR","x":533.0,"o":0.165},{"p":"TR","x":533.05,"o":0.155},{"p":"TR","x":533.1,"o":0.138},{"p":"TR","x":533.15,"o":0.128},{"p":"TR","x":533.2,"o":0.112},{"p":"TR","x":533.25,"o":0.108},{"p":"TR","x":533.3,"o":0.092},{"p":"TR","x":533.35,"o":0.088},{"p":"TR","x":533.4,"o":0.075},{"p":"TR","x":533.45,"o":0.07},
{"p":"TR","x":533.5,"o":0.065},{"p":"TR","x":533.55,"o":0.052},{"p":"TR","x":533.6,"o":0.055},{"p":"TR","x":533.65,"o":0.046},{"p":"TR","x":533.7,"o":0.048},{"p":"TR","x":533.75,"o":0.04},{"p":"TR","x":533.8,"o":0.042},{"p":"TR","x":533.85,"o":0.035},{"p":"TR","x":533.9,"o":0.03},{"p":"TR","x":533.95,"o":0.036},
{"p":"TR","x":534.0,"o":0.027},{"p":"TR","x":534.05,"o":0.032},{"p":"TR","x":534.1,"o":0.025},{"p":"TR","x":534.15,"o":0.028},{"p":"TR","x":534.2,"o":0.021},{"p":"TR","x":534.25,"o":0.026},{"p":"TR","x":534.3,"o":0.02},{"p":"TR","x":534.35,"o":0.022},{"p":"TR","x":534.4,"o":0.018},{"p":"TR","x":534.45,"o":0.02},
{"p":"BL","x":527.5,"o":0.004},{"p":"BL","x":527.55,"o":0.005},{"p":"BL","x":527.6,"o":0.003},{"p":"BL","x":527.65,"o":0.006},{"p":"BL","x":527.7,"o":0.004},{"p":"BL","x":527.75,"o":0.006},{"p":"BL","x":527.8,"o":0.008},{"p":"BL","x":527.85,"o":0.007},{"p":"BL","x":527.9,"o":0.01},{"p":"BL","x":527.95,"o":0.012},
{"p":"BL","x":528.0,"o":0.022},{"p":"BL","x":528.05,"o":0.016},{"p":"BL","x":528.1,"o":0.02},{"p":"BL","x":528.15,"o":0.026},{"p":"BL","x":528.2,"o":0.03},{"p":"BL","x":528.25,"o":0.035},{"p":"BL","x":528.3,"o":0.045},{"p":"BL","x":528.35,"o":0.05},{"p":"BL","x":528.4,"o":0.06},{"p":"BL","x":528.45,"o":0.068},
{"p":"BL","x":528.5,"o":0.082},{"p":"BL","x":528.55,"o":0.095},{"p":"BL","x":528.6,"o":0.112},{"p":"BL","x":528.65,"o":0.125},{"p":"BL","x":528.7,"o":0.15},{"p":"BL","x":528.75,"o":0.17},{"p":"BL","x":528.8,"o":0.198},{"p":"BL","x":528.85,"o":0.225},{"p":"BL","x":528.9,"o":0.26},{"p":"BL","x":528.95,"o":0.285},
{"p":"BL","x":529.0,"o":0.325},{"p":"BL","x":529.05,"o":0.355},{"p":"BL","x":529.1,"o":0.398},{"p":"BL","x":529.15,"o":0.432},{"p":"BL","x":529.2,"o":0.476},{"p":"BL","x":529.25,"o":0.512},{"p":"BL","x":529.3,"o":0.555},{"p":"BL","x":529.35,"o":0.59},{"p":"BL","x":529.4,"o":0.635},{"p":"BL","x":529.45,"o":0.665},
{"p":"BL","x":529.5,"o":0.705},{"p":"BL","x":529.55,"o":0.742},{"p":"BL","x":529.6,"o":0.785},{"p":"BL","x":529.65,"o":0.82},{"p":"BL","x":529.7,"o":0.862},{"p":"BL","x":529.75,"o":0.895},{"p":"BL","x":529.8,"o":0.925},{"p":"BL","x":529.85,"o":0.945},{"p":"BL","x":529.9,"o":0.962},{"p":"BL","x":529.95,"o":0.958},
{"p":"BL","x":530.0,"o":0.968},{"p":"BL","x":530.05,"o":0.955},{"p":"BL","x":530.1,"o":0.945},{"p":"BL","x":530.15,"o":0.93},{"p":"BL","x":530.2,"o":0.905},{"p":"BL","x":530.25,"o":0.885},{"p":"BL","x":530.3,"o":0.862},{"p":"BL","x":530.35,"o":0.84},{"p":"BL","x":530.4,"o":0.815},{"p":"BL","x":530.45,"o":0.8},
{"p":"BL","x":530.5,"o":0.778},{"p":"BL","x":530.55,"o":0.77},{"p":"BL","x":530.6,"o":0.755},{"p":"BL","x":530.65,"o":0.75},{"p":"BL","x":530.7,"o":0.742},{"p":"BL","x":530.75,"o":0.738},{"p":"BL","x":530.8,"o":0.725},{"p":"BL","x":530.85,"o":0.728},{"p":"BL","x":530.9,"o":0.712},{"p":"BL","x":530.95,"o":0.72},
{"p":"BL","x":531.0,"o":0.708},{"p":"BL","x":531.05,"o":0.722},{"p":"BL","x":531.1,"o":0.725},{"p":"BL","x":531.15,"o":0.735},{"p":"BL","x":531.2,"o":0.742},{"p":"BL","x":531.25,"o":0.715},{"p":"BL","x":531.3,"o":0.74},{"p":"BL","x":531.35,"o":0.75},{"p":"BL","x":531.4,"o":0.712},{"p":"BL","x":531.45,"o":0.738},
{"p":"BL","x":531.5,"o":0.722},{"p":"BL","x":531.55,"o":0.745},{"p":"BL","x":531.6,"o":0.728},{"p":"BL","x":531.65,"o":0.705},{"p":"BL","x":531.7,"o":0.702},{"p":"BL","x":531.75,"o":0.7},{"p":"BL","x":531.8,"o":0.676},{"p":"BL","x":531.85,"o":0.662},{"p":"BL","x":531.9,"o":0.63},{"p":"BL","x":531.95,"o":0.605},
{"p":"BL","x":532.0,"o":0.582},{"p":"BL","x":532.05,"o":0.565},{"p":"BL","x":532.1,"o":0.535},{"p":"BL","x":532.15,"o":0.515},{"p":"BL","x":532.2,"o":0.488},{"p":"BL","x":532.25,"o":0.465},{"p":"BL","x":532.3,"o":0.44},{"p":"BL","x":532.35,"o":0.418},{"p":"BL","x":532.4,"o":0.39},{"p":"BL","x":532.45,"o":0.372},
{"p":"BL","x":532.5,"o":0.342},{"p":"BL","x":532.55,"o":0.328},{"p":"BL","x":532.6,"o":0.3},{"p":"BL","x":532.65,"o":0.278},{"p":"BL","x":532.7,"o":0.252},{"p":"BL","x":532.75,"o":0.23},{"p":"BL","x":532.8,"o":0.208},{"p":"BL","x":532.85,"o":0.195},{"p":"BL","x":532.9,"o":0.172},{"p":"BL","x":532.95,"o":0.16},
{"p":"BL","x":533.0,"o":0.14},{"p":"BL","x":533.05,"o":0.128},{"p":"BL","x":533.1,"o":0.112},{"p":"BL","x":533.15,"o":0.102},{"p":"BL","x":533.2,"o":0.088},{"p":"BL","x":533.25,"o":0.082},{"p":"BL","x":533.3,"o":0.072},{"p":"BL","x":533.35,"o":0.065},{"p":"BL","x":533.4,"o":0.058},{"p":"BL","x":533.45,"o":0.05},
{"p":"BL","x":533.5,"o":0.045},{"p":"BL","x":533.55,"o":0.04},{"p":"BL","x":533.6,"o":0.034},{"p":"BL","x":533.65,"o":0.028},{"p":"BL","x":533.7,"o":0.025},{"p":"BL","x":533.75,"o":0.02},{"p":"BL","x":533.8,"o":0.018},{"p":"BL","x":533.85,"o":0.014},{"p":"BL","x":533.9,"o":0.012},{"p":"BL","x":533.95,"o":0.01},
{"p":"BL","x":534.0,"o":0.008},{"p":"BL","x":534.05,"o":0.007},{"p":"BL","x":534.1,"o":0.01},{"p":"BL","x":534.15,"o":0.006},{"p":"BL","x":534.2,"o":0.005},{"p":"BL","x":534.25,"o":0.007},{"p":"BL","x":534.3,"o":0.005},{"p":"BL","x":534.35,"o":0.006},{"p":"BL","x":534.4,"o":0.004},{"p":"BL","x":534.45,"o":0.006},
{"p":"BR","x":527.5,"o":0.006},{"p":"BR","x":527.55,"o":0.005},{"p":"BR","x":527.6,"o":0.008},{"p":"BR","x":527.65,"o":0.006},{"p":"BR","x":527.7,"o":0.004},{"p":"BR","x":527.75,"o":0.007},{"p":"BR","x":527.8,"o":0.005},{"p":"BR","x":527.85,"o":0.008},{"p":"BR","x":527.9,"o":0.01},{"p":"BR","x":527.95,"o":0.006},
{"p":"BR","x":528.0,"o":0.012},{"p":"BR","x":528.05,"o":0.008},{"p":"BR","x":528.1,"o":0.014},{"p":"BR","x":528.15,"o":0.009},{"p":"BR","x":528.2,"o":0.016},{"p":"BR","x":528.25,"o":0.012},{"p":"BR","x":528.3,"o":0.01},{"p":"BR","x":528.35,"o":0.015},{"p":"BR","x":528.4,"o":0.018},{"p":"BR","x":528.45,"o":0.02},
{"p":"BR","x":528.5,"o":0.028},{"p":"BR","x":528.55,"o":0.032},{"p":"BR","x":528.6,"o":0.045},{"p":"BR","x":528.65,"o":0.05},{"p":"BR","x":528.7,"o":0.062},{"p":"BR","x":528.75,"o":0.072},{"p":"BR","x":528.8,"o":0.09},{"p":"BR","x":528.85,"o":0.102},{"p":"BR","x":528.9,"o":0.122},{"p":"BR","x":528.95,"o":0.14},
{"p":"BR","x":529.0,"o":0.168},{"p":"BR","x":529.05,"o":0.195},{"p":"BR","x":529.1,"o":0.232},{"p":"BR","x":529.15,"o":0.268},{"p":"BR","x":529.2,"o":0.31},{"p":"BR","x":529.25,"o":0.352},{"p":"BR","x":529.3,"o":0.402},{"p":"BR","x":529.35,"o":0.448},{"p":"BR","x":529.4,"o":0.495},{"p":"BR","x":529.45,"o":0.535},
{"p":"BR","x":529.5,"o":0.58},{"p":"BR","x":529.55,"o":0.615},{"p":"BR","x":529.6,"o":0.655},{"p":"BR","x":529.65,"o":0.688},{"p":"BR","x":529.7,"o":0.725},{"p":"BR","x":529.75,"o":0.76},{"p":"BR","x":529.8,"o":0.8},{"p":"BR","x":529.85,"o":0.83},{"p":"BR","x":529.9,"o":0.86},{"p":"BR","x":529.95,"o":0.88},
{"p":"BR","x":530.0,"o":0.905},{"p":"BR","x":530.05,"o":0.915},{"p":"BR","x":530.1,"o":0.922},{"p":"BR","x":530.15,"o":0.9},{"p":"BR","x":530.2,"o":0.895},{"p":"BR","x":530.25,"o":0.88},{"p":"BR","x":530.3,"o":0.89},{"p":"BR","x":530.35,"o":0.91},{"p":"BR","x":530.4,"o":0.892},{"p":"BR","x":530.45,"o":0.87},
{"p":"BR","x":530.5,"o":0.868},{"p":"BR","x":530.55,"o":0.862},{"p":"BR","x":530.6,"o":0.87},{"p":"BR","x":530.65,"o":0.858},{"p":"BR","x":530.7,"o":0.862},{"p":"BR","x":530.75,"o":0.866},{"p":"BR","x":530.8,"o":0.862},{"p":"BR","x":530.85,"o":0.872},{"p":"BR","x":530.9,"o":0.88},{"p":"BR","x":530.95,"o":0.895},
{"p":"BR","x":531.0,"o":0.91},{"p":"BR","x":531.05,"o":0.912},{"p":"BR","x":531.1,"o":0.915},{"p":"BR","x":531.15,"o":0.91},{"p":"BR","x":531.2,"o":0.912},{"p":"BR","x":531.25,"o":0.908},{"p":"BR","x":531.3,"o":0.905},{"p":"BR","x":531.35,"o":0.912},{"p":"BR","x":531.4,"o":0.902},{"p":"BR","x":531.45,"o":0.905},
{"p":"BR","x":531.5,"o":0.9},{"p":"BR","x":531.55,"o":0.902},{"p":"BR","x":531.6,"o":0.898},{"p":"BR","x":531.65,"o":0.892},{"p":"BR","x":531.7,"o":0.88},{"p":"BR","x":531.75,"o":0.865},{"p":"BR","x":531.8,"o":0.845},{"p":"BR","x":531.85,"o":0.83},{"p":"BR","x":531.9,"o":0.805},{"p":"BR","x":531.95,"o":0.78},
{"p":"BR","x":532.0,"o":0.752},{"p":"BR","x":532.05,"o":0.728},{"p":"BR","x":532.1,"o":0.7},{"p":"BR","x":532.15,"o":0.672},{"p":"BR","x":532.2,"o":0.64},{"p":"BR","x":532.25,"o":0.612},{"p":"BR","x":532.3,"o":0.582},{"p":"BR","x":532.35,"o":0.555},{"p":"BR","x":532.4,"o":0.525},{"p":"BR","x":532.45,"o":0.5},
{"p":"BR","x":532.5,"o":0.47},{"p":"BR","x":532.55,"o":0.448},{"p":"BR","x":532.6,"o":0.418},{"p":"BR","x":532.65,"o":0.392},{"p":"BR","x":532.7,"o":0.36},{"p":"BR","x":532.75,"o":0.338},{"p":"BR","x":532.8,"o":0.305},{"p":"BR","x":532.85,"o":0.282},{"p":"BR","x":532.9,"o":0.255},{"p":"BR","x":532.95,"o":0.232},
{"p":"BR","x":533.0,"o":0.205},{"p":"BR","x":533.05,"o":0.185},{"p":"BR","x":533.1,"o":0.162},{"p":"BR","x":533.15,"o":0.142},{"p":"BR","x":533.2,"o":0.125},{"p":"BR","x":533.25,"o":0.108},{"p":"BR","x":533.3,"o":0.095},{"p":"BR","x":533.35,"o":0.088},{"p":"BR","x":533.4,"o":0.078},{"p":"BR","x":533.45,"o":0.072},
{"p":"BR","x":533.5,"o":0.062},{"p":"BR","x":533.55,"o":0.06},{"p":"BR","x":533.6,"o":0.052},{"p":"BR","x":533.65,"o":0.048},{"p":"BR","x":533.7,"o":0.042},{"p":"BR","x":533.75,"o":0.038},{"p":"BR","x":533.8,"o":0.032},{"p":"BR","x":533.85,"o":0.03},{"p":"BR","x":533.9,"o":0.025},{"p":"BR","x":533.95,"o":0.026},
{"p":"BR","x":534.0,"o":0.02},{"p":"BR","x":534.05,"o":0.022},{"p":"BR","x":534.1,"o":0.018},{"p":"BR","x":534.15,"o":0.016},{"p":"BR","x":534.2,"o":0.014},{"p":"BR","x":534.25,"o":0.015},{"p":"BR","x":534.3,"o":0.012},{"p":"BR","x":534.35,"o":0.01},{"p":"BR","x":534.4,"o":0.011},{"p":"BR","x":534.45,"o":0.009}
]},
"bounds":"flush","spacing":353,
"resolve":{"scale":{"x":"independent","y":"independent"}},
"vconcat":[
{"bounds":"flush","spacing":76,"resolve":{"scale":{"x":"independent","y":"independent"}},
"hconcat":[
{"width":273,"height":253,"view":{"stroke":null},"data":{"name":"lab"},"transform":[{"filter":"datum.row=='B'"}],"mark":{"type":"text","align":"left","baseline":"middle","font":"Liberation Serif","fontWeight":"bold","fontSize":28,"color":"black"},"encoding":{"x":{"field":"lx","type":"quantitative","scale":{"domain":[0,1]},"axis":null},"y":{"field":"ly","type":"quantitative","scale":{"domain":[0,1]},"axis":null},"text":{"field":"t"}}},
{"width":319,"height":253,"title":{"text":"As-dep","frame":"group","anchor":"middle","offset":14},
"encoding":{"x":{"field":"x","type":"quantitative","scale":{"domain":[527.5,534.5],"nice":false,"zero":false},"axis":{"values":[528,530,532,534],"format":"d","title":"Binding Energy (eV)"}}},
"layer":[
{"data":{"name":"comp"},"transform":[{"filter":"datum.p=='TL'"}],"mark":{"type":"area","color":"#ff0000","interpolate":"monotone"},"encoding":{"y":{"field":"r","type":"quantitative","scale":{"domain":[0,1],"nice":false},"axis":{"title":"Intensity (a.u.)"}}}},
{"data":{"name":"comp"},"transform":[{"filter":"datum.p=='TL'"}],"mark":{"type":"area","color":"#008000","interpolate":"monotone"},"encoding":{"y":{"field":"g","type":"quantitative","axis":{"title":"Intensity (a.u.)"}}}},
{"data":{"name":"comp"},"transform":[{"filter":"datum.p=='TL'"}],"mark":{"type":"area","color":"#0000ff","interpolate":"monotone"},"encoding":{"y":{"field":"b","type":"quantitative","axis":{"title":"Intensity (a.u.)"}}}},
{"data":{"name":"obs"},"transform":[{"filter":"datum.p=='TL'"}],"mark":{"type":"square","color":"#000000","size":10,"opacity":1},"encoding":{"y":{"field":"o","type":"quantitative","axis":{"title":"Intensity (a.u.)"}}}},
{"data":{"name":"comp"},"transform":[{"filter":"datum.p=='TL'"}],"mark":{"type":"line","color":"#e8202a","strokeWidth":1,"interpolate":"monotone"},"encoding":{"y":{"field":"f","type":"quantitative","axis":{"title":"Intensity (a.u.)"}}}},
{"data":{"name":"pct"},"transform":[{"filter":"datum.p=='TL'"}],"mark":{"type":"text","color":"#ffffff","fontSize":26,"fontWeight":"bold","font":"Liberation Serif"},"encoding":{"y":{"field":"y","type":"quantitative","axis":{"title":"Intensity (a.u.)"}},"text":{"field":"t"}}},
{"data":{"name":"arr"},"mark":{"type":"line","strokeWidth":1.5,"interpolate":"monotone"},"encoding":{"y":{"field":"y","type":"quantitative","axis":{"title":"Intensity (a.u.)"}},"detail":{"field":"id"},"order":{"field":"k"},"color":{"field":"c","type":"nominal","scale":null}}},
{"data":{"name":"head"},"mark":{"type":"point","filled":true,"size":55,"opacity":1},"encoding":{"y":{"field":"y","type":"quantitative","axis":{"title":"Intensity (a.u.)"}},"shape":{"field":"s","type":"nominal","scale":null},"angle":{"field":"a","type":"quantitative","scale":null},"color":{"field":"c","type":"nominal","scale":null}}},
{"data":{"name":"antx"},"mark":{"type":"text","align":"left","baseline":"middle","fontSize":24,"fontWeight":"bold","font":"Liberation Serif"},"encoding":{"y":{"field":"y","type":"quantitative","axis":{"title":"Intensity (a.u.)"}},"text":{"field":"t"},"color":{"field":"c","type":"nominal","scale":null}}}
]},
{"width":319,"height":253,"title":{"text":["After dipping in","base-H₂O₂ etchant (pH 9.5)"],"frame":"group","anchor":"start","dx":-9,"offset":7,"lineHeight":32},
"encoding":{"x":{"field":"x","type":"quantitative","scale":{"domain":[527.5,534.5],"nice":false,"zero":false},"axis":{"values":[528,530,532,534],"format":"d","title":"Binding Energy (eV)"}}},
"layer":[
{"data":{"name":"comp"},"transform":[{"filter":"datum.p=='TR'"}],"mark":{"type":"area","color":"#ff0000","interpolate":"monotone"},"encoding":{"y":{"field":"r","type":"quantitative","scale":{"domain":[0,1],"nice":false},"axis":{"title":"Intensity (a.u.)"}}}},
{"data":{"name":"comp"},"transform":[{"filter":"datum.p=='TR'"}],"mark":{"type":"area","color":"#008000","interpolate":"monotone"},"encoding":{"y":{"field":"g","type":"quantitative","axis":{"title":"Intensity (a.u.)"}}}},
{"data":{"name":"comp"},"transform":[{"filter":"datum.p=='TR'"}],"mark":{"type":"area","color":"#0000ff","interpolate":"monotone"},"encoding":{"y":{"field":"b","type":"quantitative","axis":{"title":"Intensity (a.u.)"}}}},
{"data":{"name":"obs"},"transform":[{"filter":"datum.p=='TR'"}],"mark":{"type":"square","color":"#000000","size":10,"opacity":1},"encoding":{"y":{"field":"o","type":"quantitative","axis":{"title":"Intensity (a.u.)"}}}},
{"data":{"name":"comp"},"transform":[{"filter":"datum.p=='TR'"}],"mark":{"type":"line","color":"#e8202a","strokeWidth":1,"interpolate":"monotone"},"encoding":{"y":{"field":"f","type":"quantitative","axis":{"title":"Intensity (a.u.)"}}}},
{"data":{"name":"pct"},"transform":[{"filter":"datum.p=='TR'"}],"mark":{"type":"text","color":"#ffffff","fontSize":26,"fontWeight":"bold","font":"Liberation Serif"},"encoding":{"y":{"field":"y","type":"quantitative","axis":{"title":"Intensity (a.u.)"}},"text":{"field":"t"}}}
]}
]},
{"bounds":"flush","spacing":76,"resolve":{"scale":{"x":"independent","y":"independent"}},
"hconcat":[
{"width":273,"height":253,"view":{"stroke":null},"data":{"name":"lab"},"transform":[{"filter":"datum.row=='S'"}],"mark":{"type":"text","align":"left","baseline":"middle","font":"Liberation Serif","fontWeight":"bold","fontSize":28,"color":"black"},"encoding":{"x":{"field":"lx","type":"quantitative","scale":{"domain":[0,1]},"axis":null},"y":{"field":"ly","type":"quantitative","scale":{"domain":[0,1]},"axis":null},"text":{"field":"t"}}},
{"width":319,"height":253,
"encoding":{"x":{"field":"x","type":"quantitative","scale":{"domain":[527.5,534.5],"nice":false,"zero":false},"axis":{"values":[528,530,532,534],"format":"d","title":"Binding Energy (eV)"}}},
"layer":[
{"data":{"name":"comp"},"transform":[{"filter":"datum.p=='BL'"}],"mark":{"type":"area","color":"#ff0000","interpolate":"monotone"},"encoding":{"y":{"field":"r","type":"quantitative","scale":{"domain":[0,1],"nice":false},"axis":{"title":"Intensity (a.u.)"}}}},
{"data":{"name":"comp"},"transform":[{"filter":"datum.p=='BL'"}],"mark":{"type":"area","color":"#008000","interpolate":"monotone"},"encoding":{"y":{"field":"g","type":"quantitative","axis":{"title":"Intensity (a.u.)"}}}},
{"data":{"name":"comp"},"transform":[{"filter":"datum.p=='BL'"}],"mark":{"type":"area","color":"#0000ff","interpolate":"monotone"},"encoding":{"y":{"field":"b","type":"quantitative","axis":{"title":"Intensity (a.u.)"}}}},
{"data":{"name":"obs"},"transform":[{"filter":"datum.p=='BL'"}],"mark":{"type":"square","color":"#000000","size":10,"opacity":1},"encoding":{"y":{"field":"o","type":"quantitative","axis":{"title":"Intensity (a.u.)"}}}},
{"data":{"name":"comp"},"transform":[{"filter":"datum.p=='BL'"}],"mark":{"type":"line","color":"#e8202a","strokeWidth":1,"interpolate":"monotone"},"encoding":{"y":{"field":"f","type":"quantitative","axis":{"title":"Intensity (a.u.)"}}}},
{"data":{"name":"pct"},"transform":[{"filter":"datum.p=='BL'"}],"mark":{"type":"text","color":"#ffffff","fontSize":26,"fontWeight":"bold","font":"Liberation Serif"},"encoding":{"y":{"field":"y","type":"quantitative","axis":{"title":"Intensity (a.u.)"}},"text":{"field":"t"}}}
]},
{"width":319,"height":253,
"encoding":{"x":{"field":"x","type":"quantitative","scale":{"domain":[527.5,534.5],"nice":false,"zero":false},"axis":{"values":[528,530,532,534],"format":"d","title":"Binding Energy (eV)"}}},
"layer":[
{"data":{"name":"comp"},"transform":[{"filter":"datum.p=='BR'"}],"mark":{"type":"area","color":"#ff0000","interpolate":"monotone"},"encoding":{"y":{"field":"r","type":"quantitative","scale":{"domain":[0,1],"nice":false},"axis":{"title":"Intensity (a.u.)"}}}},
{"data":{"name":"comp"},"transform":[{"filter":"datum.p=='BR'"}],"mark":{"type":"area","color":"#008000","interpolate":"monotone"},"encoding":{"y":{"field":"g","type":"quantitative","axis":{"title":"Intensity (a.u.)"}}}},
{"data":{"name":"comp"},"transform":[{"filter":"datum.p=='BR'"}],"mark":{"type":"area","color":"#0000ff","interpolate":"monotone"},"encoding":{"y":{"field":"b","type":"quantitative","axis":{"title":"Intensity (a.u.)"}}}},
{"data":{"name":"obs"},"transform":[{"filter":"datum.p=='BR'"}],"mark":{"type":"square","color":"#000000","size":10,"opacity":1},"encoding":{"y":{"field":"o","type":"quantitative","axis":{"title":"Intensity (a.u.)"}}}},
{"data":{"name":"comp"},"transform":[{"filter":"datum.p=='BR'"}],"mark":{"type":"line","color":"#e8202a","strokeWidth":1,"interpolate":"monotone"},"encoding":{"y":{"field":"f","type":"quantitative","axis":{"title":"Intensity (a.u.)"}}}},
{"data":{"name":"pct"},"transform":[{"filter":"datum.p=='BR'"}],"mark":{"type":"text","color":"#ffffff","fontSize":26,"fontWeight":"bold","font":"Liberation Serif"},"encoding":{"y":{"field":"y","type":"quantitative","axis":{"title":"Intensity (a.u.)"}},"text":{"field":"t"}}}
]}
]}
]
}
